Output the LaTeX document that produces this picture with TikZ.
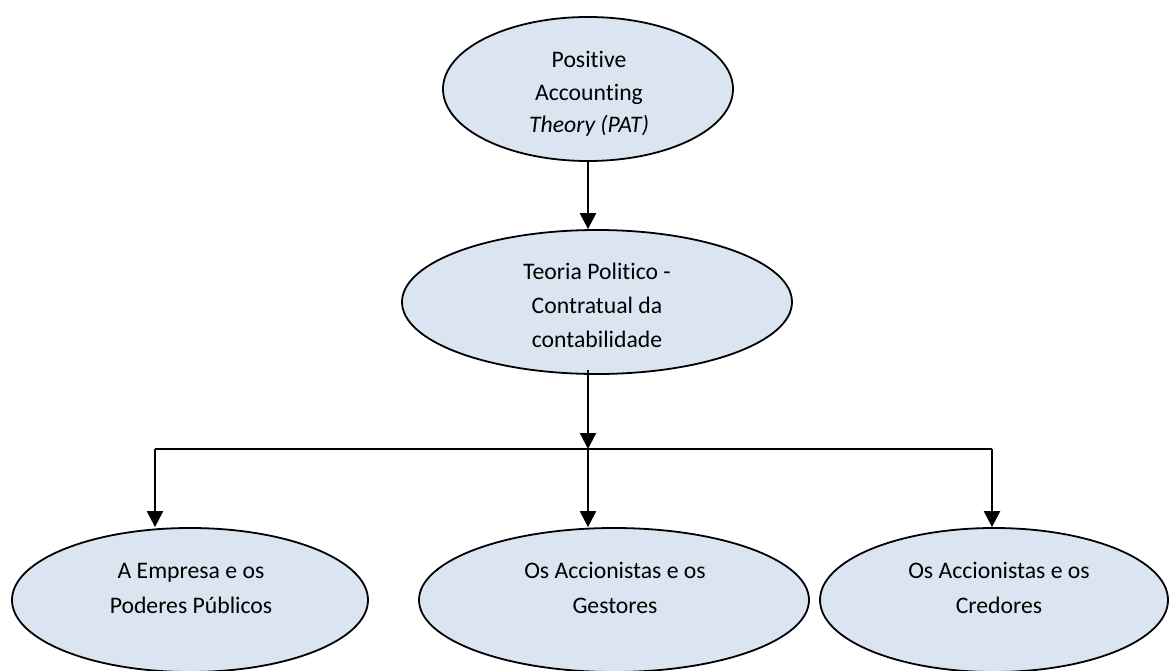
\documentclass[tikz,border=0pt]{standalone}
\usepackage{fontspec}
\setmainfont{Carlito}[Ligatures=CommonOff]
\usetikzlibrary{shapes.geometric,arrows.meta}
\definecolor{ellfill}{RGB}{219,229,241}
\tikzset{
  ell/.style={ellipse, draw=black, line width=1.8pt, fill=ellfill, inner sep=0pt, minimum height=144pt},
  lbl/.style={align=center, inner sep=0pt, text=black},
  conn/.style={line width=2.3pt, draw=black},
  arr/.style={conn, -{Triangle[length=16pt,width=16pt]}}
}
\begin{document}
\begin{tikzpicture}[x=1pt,y=-1pt]
\useasboundingbox (0,0) rectangle (1169,671);
% ellipses
\node[ell, minimum width=290pt] (top) at (588,89) {};
\node[ell, minimum width=390pt] (mid) at (597,302) {};
\node[ell, minimum width=356pt] (le) at (190,600) {};
\node[ell, minimum width=390pt] (me) at (614,600) {};
\node[ell, minimum width=348pt] (re) at (994,600) {};
% texts
\node[lbl, font=\fontsize{23.7}{32.5}\selectfont] (ttop) at (589,94) {Positive\\Accounting\\\textit{Theory (PAT)}};
\node[lbl, font=\fontsize{23.7}{34}\selectfont] (tmid) at (597,305) {Teoria Politico -\\Contratual da\\contabilidade};
\node[lbl, font=\fontsize{23.7}{35}\selectfont] (tle) at (191,588) {A Empresa e os\\Poderes Públicos};
\node[lbl, font=\fontsize{23.7}{35}\selectfont] (tme) at (615,588) {Os Accionistas e os\\Gestores};
\node[lbl, font=\fontsize{23.7}{35}\selectfont] (tre) at (999,588) {Os Accionistas e os\\Credores};
% connectors
\coordinate (j) at (588,449);
\coordinate (c1) at (155,449);
\coordinate (c3) at (992,449);
\coordinate (m1) at (588,370);
\draw[arr] (top.south) -- (top.south |- mid.north);
\draw[arr] (m1) -- (j);
\draw[conn] (c1) -- (c3);
\draw[arr] (c1) -- (c1 |- le.north);
\draw[arr] (j) -- (j |- me.north);
\draw[arr] (c3) -- (c3 |- re.north);
\end{tikzpicture}
\end{document}
